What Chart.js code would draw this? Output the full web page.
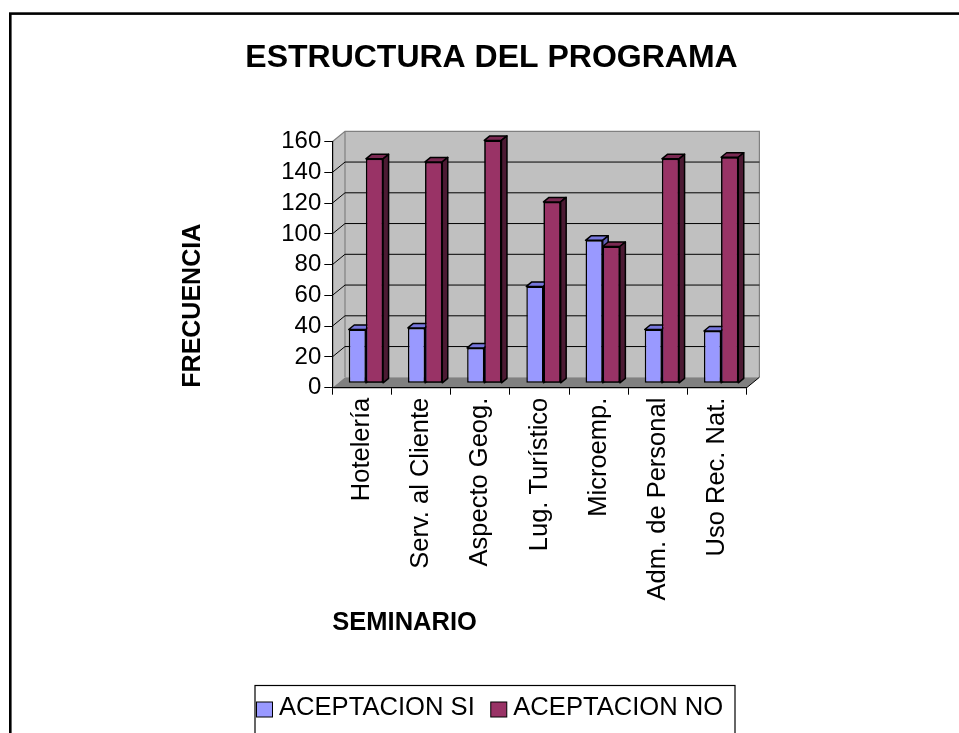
<!DOCTYPE html>
<html><head><meta charset="utf-8">
<script src="https://cdn.jsdelivr.net/npm/chart.js@4.4.0/dist/chart.umd.min.js"></script>
<style>html,body{margin:0;padding:0;background:#fff;overflow:hidden}#wrap{width:959px;height:733px}</style>
</head><body><div id="wrap"><canvas id="c" width="959" height="733"></canvas></div>
<script>
// ---- data ----
const categories = ['Hotelería','Serv. al Cliente','Aspecto Geog.','Lug. Turístico','Microemp.','Adm. de Personal','Uso Rec. Nat.'];
const aceptacionSi = [35, 36, 23, 63, 93, 35, 34];
const aceptacionNo = [146, 144, 158, 118, 89, 146, 147];
const seriesNames = ['ACEPTACION SI', 'ACEPTACION NO'];
const yMin = 0, yMax = 160, yStep = 20;
const chartTitle = 'ESTRUCTURA DEL PROGRAMA';
const yAxisTitle = 'FRECUENCIA';
const xAxisTitle = 'SEMINARIO';

// ---- styling ----
const FONT = '"Liberation Sans", Arial, sans-serif';
const colors = {
  si: {front: '#9999FF', top: '#7777DD', side: '#5F5FB8'},
  no: {front: '#993366', top: '#7A2952', side: '#4C1A33'}
};
const WALL = {dx: 12.7, dy: -10.4};
const BAR_SHIFT = {dx: 4, dy: -4.4};
const BAR_DEPTH = {dx: 5.5, dy: -4.5};

function poly(ctx, pts, fill) {
  ctx.beginPath();
  ctx.moveTo(pts[0][0], pts[0][1]);
  for (let i = 1; i < pts.length; i++) ctx.lineTo(pts[i][0], pts[i][1]);
  ctx.closePath();
  ctx.fillStyle = fill; ctx.fill();
  ctx.stroke();
}
function faces(ctx, bar, c) {
  const p = bar.getProps(['x','y','base','width'], true);
  const l = p.x - p.width / 2, r = p.x + p.width / 2;
  const bx = BAR_DEPTH.dx, by = BAR_DEPTH.dy;
  ctx.strokeStyle = '#000'; ctx.lineWidth = 1.5; ctx.lineJoin = 'round';
  poly(ctx, [[l, p.y], [l + bx, p.y + by], [r + bx, p.y + by], [r, p.y]], c.top);
  poly(ctx, [[r, p.y], [r + bx, p.y + by], [r + bx, p.base + by], [r, p.base]], c.side);
}

const excel3d = {
  id: 'excel3d',
  beforeDraw(chart) {
    const {ctx, chartArea: a, scales: {y}} = chart;
    const L = a.left, R = a.right, T = a.top, B = a.bottom, dx = WALL.dx, dy = WALL.dy;
    ctx.save();
    ctx.fillStyle = '#fff'; ctx.fillRect(0, 0, chart.width, chart.height);
    ctx.strokeStyle = '#000'; ctx.lineWidth = 2.6;
    ctx.strokeRect(10.3, 13.6, chart.width + 40, chart.height + 40);
    // back wall
    ctx.fillStyle = '#C0C0C0';
    ctx.fillRect(L + dx, T + dy, R - L, B - T);
    // side wall
    ctx.beginPath(); ctx.moveTo(L, T); ctx.lineTo(L + dx, T + dy); ctx.lineTo(L + dx, B + dy); ctx.lineTo(L, B); ctx.closePath(); ctx.fill();
    // floor
    ctx.fillStyle = '#808080';
    ctx.beginPath(); ctx.moveTo(L, B); ctx.lineTo(L + dx, B + dy); ctx.lineTo(R + dx, B + dy); ctx.lineTo(R, B); ctx.closePath(); ctx.fill();
    // wall outlines
    ctx.strokeStyle = '#808080'; ctx.lineWidth = 1.2;
    ctx.beginPath();
    ctx.moveTo(L, T); ctx.lineTo(L + dx, T + dy); ctx.lineTo(R + dx, T + dy); ctx.lineTo(R + dx, B + dy);
    ctx.moveTo(L + dx, T + dy); ctx.lineTo(L + dx, B + dy);
    ctx.stroke();
    // gridlines on back wall + connectors on side wall
    ctx.strokeStyle = '#000'; ctx.lineWidth = 1;
    ctx.beginPath();
    y.ticks.forEach(t => {
      if (t.value <= yMin || t.value >= yMax) return;
      const py = y.getPixelForValue(t.value);
      ctx.moveTo(L, py); ctx.lineTo(L + dx, py + dy); ctx.lineTo(R + dx, py + dy);
    });
    ctx.moveTo(R, B); ctx.lineTo(R + dx, B + dy);
    ctx.stroke();
    ctx.restore();
  },
  beforeDatasetsDraw(chart) {
    chart.ctx.save();
    chart.ctx.translate(BAR_SHIFT.dx, BAR_SHIFT.dy);
  },
  afterDatasetsDraw(chart) {
    const ctx = chart.ctx;
    const m0 = chart.getDatasetMeta(0), m1 = chart.getDatasetMeta(1);
    m0.data.forEach((bar, i) => {
      faces(ctx, bar, colors.si);
      const nb = m1.data[i];
      nb.draw(ctx);
      faces(ctx, nb, colors.no);
    });
    ctx.restore();
  },
  afterDraw(chart) {
    const ctx = chart.ctx;
    ctx.save();
    // title
    ctx.fillStyle = '#000';
    ctx.font = 'bold 32px ' + FONT;
    ctx.textAlign = 'center'; ctx.textBaseline = 'alphabetic';
    ctx.fillText(chartTitle, 491.5, 67);
    // legend
    ctx.lineWidth = 1.2; ctx.strokeStyle = '#000';
    ctx.fillStyle = '#fff';
    ctx.fillRect(255, 685.5, 480, 60);
    ctx.strokeRect(255, 685.5, 480, 60);
    ctx.font = '25.6px ' + FONT; ctx.textAlign = 'left';
    let x = 256.5;
    chart.data.datasets.forEach(ds => {
      ctx.fillStyle = ds.backgroundColor;
      ctx.fillRect(x, 702, 16, 15);
      ctx.lineWidth = 1;
      ctx.strokeRect(x, 702, 16, 15);
      ctx.fillStyle = '#000';
      ctx.fillText(ds.label, x + 22.5, 715);
      x += 22.5 + ctx.measureText(ds.label).width + 16;
    });
    ctx.restore();
  }
};

new Chart(document.getElementById('c'), {
  type: 'bar',
  data: {
    labels: categories,
    datasets: [
      {label: seriesNames[0], data: aceptacionSi, backgroundColor: colors.si.front},
      {label: seriesNames[1], data: aceptacionNo, backgroundColor: colors.no.front}
    ]
  },
  options: {
    responsive: false,
    animation: false,
    devicePixelRatio: 1,
    layout: {padding: {left: 178, right: 212.3, top: 141.7, bottom: 95}},
    datasets: {bar: {
      borderColor: '#000', borderWidth: 1.5, borderSkipped: false,
      categoryPercentage: 0.58, barPercentage: 1.0, clip: false
    }},
    plugins: {legend: {display: false}, title: {display: false}, tooltip: {enabled: false}},
    scales: {
      x: {
        grid: {drawOnChartArea: false, drawTicks: true, tickLength: 7, color: '#000', offset: true},
        border: {display: true, color: '#000', width: 1.2},
        ticks: {autoSkip: false, minRotation: 90, maxRotation: 90, padding: 3, color: '#000',
          font: {family: FONT, size: 25.5}},
        title: {display: true, text: xAxisTitle, align: 'start', color: '#000',
          font: {family: FONT, size: 25.5, weight: 'bold'}, padding: {top: 0, bottom: 0}},
        afterFit(s) { s.height = 250.3; }
      },
      y: {
        min: yMin, max: yMax,
        grid: {drawOnChartArea: false, drawTicks: true, tickLength: 8, color: '#000'},
        border: {display: true, color: '#000', width: 1.2},
        ticks: {stepSize: yStep, autoSkip: false, padding: 3, color: '#000', font: {family: FONT, size: 24}},
        title: {display: true, text: yAxisTitle, align: 'start', color: '#000',
          font: {family: FONT, size: 25, weight: 'bold'}, padding: {top: 0, bottom: 0}},
        afterFit(s) { s.width = 154.3; }
      }
    }
  },
  plugins: [excel3d]
});
</script>
</body></html>
